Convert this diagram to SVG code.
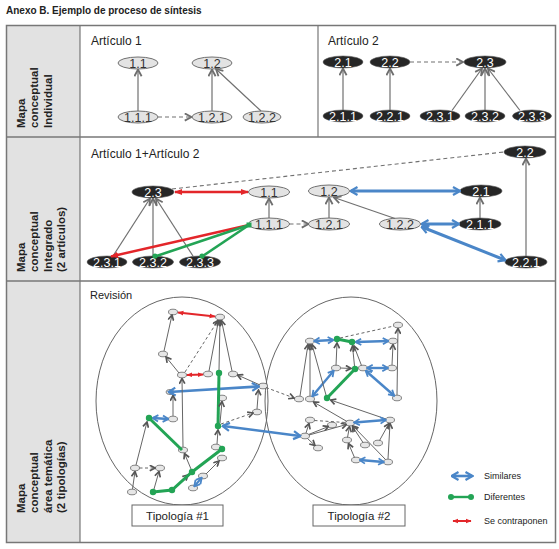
<svg xmlns="http://www.w3.org/2000/svg" width="559" height="549" viewBox="0 0 559 549">
<style>
text{font-family:"Liberation Sans",Arial,sans-serif;fill:#222}
.ttl{font-size:10px;font-weight:bold}
.hd{font-size:12px}
.lab{font-size:11.5px;font-weight:bold}
.nl{fill:#e3e3e3;stroke:#707070;stroke-width:1}
.nd{fill:#262626;stroke:#555;stroke-width:0.6}
.tl{font-size:12.5px;text-anchor:middle;fill:#333}
.td{font-size:12.5px;text-anchor:middle;fill:#fff}
.sn{fill:#e6e6e6;stroke:#666;stroke-width:0.8}
.g{stroke:#707070;stroke-width:1.2;fill:none;marker-end:url(#ag)}
.gd{stroke:#707070;stroke-width:1.1;fill:none;stroke-dasharray:4 3}
.b{stroke:#4a86c8;stroke-width:3;fill:none;marker-start:url(#ab);marker-end:url(#ab)}
.bs{stroke:#4a86c8;stroke-width:2.4;fill:none;marker-start:url(#abs);marker-end:url(#abs)}
.r{stroke:#e3262a;stroke-width:2.4;fill:none}
.gr{stroke:#23a455;stroke-width:3;fill:none}
.dot{fill:#23a455}
.s{stroke:#666;stroke-width:1;fill:none;marker-end:url(#as)}
.sd{stroke:#666;stroke-width:1;fill:none;stroke-dasharray:3 2.5}
.big{fill:none;stroke:#666;stroke-width:1}
.leg{font-size:9px}
.tip{font-size:11.5px;text-anchor:middle}
</style>
<defs>
<marker id="ag" viewBox="0 0 10 10" refX="9" refY="5" markerWidth="9" markerHeight="9" markerUnits="userSpaceOnUse" orient="auto"><path d="M1.5,1 L9,5 L1.5,9" fill="none" stroke="#6e6e6e" stroke-width="2"/></marker>
<marker id="as" viewBox="0 0 10 10" refX="9" refY="5" markerWidth="7" markerHeight="7" markerUnits="userSpaceOnUse" orient="auto"><path d="M1.5,1 L9,5 L1.5,9" fill="none" stroke="#555" stroke-width="2.4"/></marker>
<marker id="ab" viewBox="0 0 10 10" refX="8.5" refY="5" markerWidth="10" markerHeight="11" markerUnits="userSpaceOnUse" orient="auto-start-reverse"><path d="M2,1 L9,5 L2,9" fill="none" stroke="#4a86c8" stroke-width="2.2"/></marker>
<marker id="abs" viewBox="0 0 10 10" refX="8.5" refY="5" markerWidth="8" markerHeight="9" markerUnits="userSpaceOnUse" orient="auto-start-reverse"><path d="M2,1 L9,5 L2,9" fill="none" stroke="#4a86c8" stroke-width="2.2"/></marker>
<marker id="ar" viewBox="0 0 10 10" refX="9" refY="5" markerWidth="8" markerHeight="8" markerUnits="userSpaceOnUse" orient="auto-start-reverse"><path d="M0,1 L10,5 L0,9 z" fill="#e3262a"/></marker>
<marker id="ars" viewBox="0 0 10 10" refX="9" refY="5" markerWidth="6" markerHeight="6" markerUnits="userSpaceOnUse" orient="auto-start-reverse"><path d="M0,1 L10,5 L0,9 z" fill="#e3262a"/></marker>
</defs>

<text class="ttl" x="6" y="14">Anexo B. Ejemplo de proceso de síntesis</text>

<g id="table">
<rect x="6.5" y="25.5" width="73.5" height="517" fill="#e2e2e2"/>
<rect x="6.5" y="25.5" width="549" height="517" fill="none" stroke="#777" stroke-width="1.5"/>
<line x1="80" y1="25.5" x2="80" y2="542.5" stroke="#777" stroke-width="1.2"/>
<line x1="6.5" y1="137" x2="555.5" y2="137" stroke="#777" stroke-width="1.5"/>
<line x1="6.5" y1="281" x2="555.5" y2="281" stroke="#777" stroke-width="1.5"/>
<line x1="318" y1="25.5" x2="318" y2="137" stroke="#777" stroke-width="1.2"/>
<g class="lab">
<text transform="translate(24.5,128) rotate(-90)" class="lab">Mapa</text>
<text transform="translate(38,128) rotate(-90)" class="lab">conceptual</text>
<text transform="translate(51.5,128) rotate(-90)" class="lab">Individual</text>
<text transform="translate(24.5,272) rotate(-90)" class="lab">Mapa</text>
<text transform="translate(38,272) rotate(-90)" class="lab">conceptual</text>
<text transform="translate(51.5,272) rotate(-90)" class="lab">Integrado</text>
<text transform="translate(65,272) rotate(-90)" class="lab">(2 artículos)</text>
<text transform="translate(24.5,513) rotate(-90)" class="lab">Mapa</text>
<text transform="translate(38,513) rotate(-90)" class="lab">conceptual</text>
<text transform="translate(51.5,513) rotate(-90)" class="lab">área temática</text>
<text transform="translate(65,513) rotate(-90)" class="lab">(2 tipologías)</text>
</g>
<text class="hd" x="91" y="45">Artículo 1</text>
<text class="hd" x="328" y="45">Artículo 2</text>
<text class="hd" x="91" y="158">Artículo 1+Artículo 2</text>
<text x="90" y="299" style="font-size:11px">Revisión</text>
</g>

<!-- Row 1 nodes -->
<g id="n-a1-1.1"><ellipse class="nl" cx="138" cy="63" rx="20" ry="6"/><text class="tl" x="138" y="67.5">1.1</text></g>
<g id="n-a1-1.2"><ellipse class="nl" cx="212" cy="63" rx="20" ry="6"/><text class="tl" x="212" y="67.5">1.2</text></g>
<g id="n-a1-1.1.1"><ellipse class="nl" cx="138" cy="117" rx="20" ry="6"/><text class="tl" x="138" y="121.5">1.1.1</text></g>
<g id="n-a1-1.2.1"><ellipse class="nl" cx="212" cy="117" rx="20" ry="6"/><text class="tl" x="212" y="121.5">1.2.1</text></g>
<g id="n-a1-1.2.2"><ellipse class="nl" cx="262" cy="117" rx="19" ry="6"/><text class="tl" x="262" y="121.5">1.2.2</text></g>
<g id="n-a2-2.1"><ellipse class="nd" cx="343" cy="62" rx="20" ry="6"/><text class="td" x="343" y="66.5">2.1</text></g>
<g id="n-a2-2.2"><ellipse class="nd" cx="390" cy="62" rx="20" ry="6"/><text class="td" x="390" y="66.5">2.2</text></g>
<g id="n-a2-2.3"><ellipse class="nd" cx="485" cy="62" rx="21" ry="6"/><text class="td" x="485" y="66.5">2.3</text></g>
<g id="n-a2-2.1.1"><ellipse class="nd" cx="343" cy="116" rx="20" ry="6"/><text class="td" x="343" y="120.5">2.1.1</text></g>
<g id="n-a2-2.2.1"><ellipse class="nd" cx="390" cy="116" rx="20" ry="6"/><text class="td" x="390" y="120.5">2.2.1</text></g>
<g id="n-a2-2.3.1"><ellipse class="nd" cx="440" cy="116" rx="20" ry="6"/><text class="td" x="440" y="120.5">2.3.1</text></g>
<g id="n-a2-2.3.2"><ellipse class="nd" cx="485" cy="116" rx="20" ry="6"/><text class="td" x="485" y="120.5">2.3.2</text></g>
<g id="n-a2-2.3.3"><ellipse class="nd" cx="532" cy="116" rx="19.5" ry="6"/><text class="td" x="532" y="120.5">2.3.3</text></g>

<!-- Row 2 nodes -->
<g id="n-i-2.3"><ellipse class="nd" cx="153" cy="192" rx="21" ry="6"/><text class="td" x="153" y="196.5">2.3</text></g>
<g id="n-i-1.1"><ellipse class="nl" cx="269" cy="192" rx="20.5" ry="6"/><text class="tl" x="269" y="196.5">1.1</text></g>
<g id="n-i-1.2"><ellipse class="nl" cx="329" cy="191" rx="20.5" ry="6"/><text class="tl" x="329" y="195.5">1.2</text></g>
<g id="n-i-2.1"><ellipse class="nd" cx="481" cy="191" rx="21" ry="6"/><text class="td" x="481" y="195.5">2.1</text></g>
<g id="n-i-2.2"><ellipse class="nd" cx="525" cy="152" rx="21" ry="6"/><text class="td" x="525" y="156.5">2.2</text></g>
<g id="n-i-1.1.1"><ellipse class="nl" cx="269" cy="224" rx="20.5" ry="6"/><text class="tl" x="269" y="228.5">1.1.1</text></g>
<g id="n-i-1.2.1"><ellipse class="nl" cx="329" cy="224" rx="20.5" ry="6"/><text class="tl" x="329" y="228.5">1.2.1</text></g>
<g id="n-i-1.2.2"><ellipse class="nl" cx="400" cy="224" rx="20.5" ry="6"/><text class="tl" x="400" y="228.5">1.2.2</text></g>
<g id="n-i-2.1.1"><ellipse class="nd" cx="480" cy="224" rx="21" ry="6"/><text class="td" x="480" y="228.5">2.1.1</text></g>
<g id="n-i-2.2.1"><ellipse class="nd" cx="526" cy="262" rx="21" ry="6"/><text class="td" x="526" y="266.5">2.2.1</text></g>
<g id="n-i-2.3.1"><ellipse class="nd" cx="107" cy="262" rx="20" ry="6"/><text class="td" x="107" y="266.5">2.3.1</text></g>
<g id="n-i-2.3.2"><ellipse class="nd" cx="153" cy="262" rx="20.5" ry="6"/><text class="td" x="153" y="266.5">2.3.2</text></g>
<g id="n-i-2.3.3"><ellipse class="nd" cx="200" cy="262" rx="20.5" ry="6"/><text class="td" x="200" y="266.5">2.3.3</text></g>

<!-- Row 3 typology ellipses and boxes -->
<g id="tipologia-1">
<ellipse class="big" cx="182" cy="401" rx="86" ry="104"/>
<rect x="132" y="505" width="91" height="21" fill="#fff" stroke="#666" stroke-width="1"/>
<text class="tip" x="177.5" y="520">Tipología #1</text>
</g>
<g id="tipologia-2">
<ellipse class="big" cx="351" cy="401" rx="86" ry="104"/>
<rect x="313" y="505" width="92" height="21" fill="#fff" stroke="#666" stroke-width="1"/>
<text class="tip" x="359" y="520">Tipología #2</text>
</g>

<!-- Row 3 small nodes -->
<g id="small-nodes">
<ellipse class="sn" cx="173" cy="312" rx="4.5" ry="2.8"/>
<ellipse class="sn" cx="220" cy="317" rx="4.5" ry="2.8"/>
<ellipse class="sn" cx="163" cy="354" rx="4.5" ry="2.8"/>
<ellipse class="sn" cx="182" cy="375" rx="4.5" ry="2.8"/>
<ellipse class="sn" cx="208" cy="374" rx="4.5" ry="2.8"/>
<ellipse class="sn" cx="233" cy="374" rx="4.5" ry="2.8"/>
<ellipse class="sn" cx="263" cy="386" rx="4.5" ry="2.8"/>
<ellipse class="sn" cx="257" cy="412" rx="4.5" ry="2.8"/>
<ellipse class="sn" cx="222" cy="398" rx="4.5" ry="2.8"/>
<ellipse class="sn" cx="170" cy="392" rx="4" ry="2.5"/>
<ellipse class="sn" cx="173" cy="419" rx="4.5" ry="2.8"/>
<ellipse class="sn" cx="135" cy="468" rx="4.5" ry="2.8"/>
<ellipse class="sn" cx="160" cy="468" rx="4.5" ry="2.8"/>
<ellipse class="sn" cx="132" cy="492" rx="4.5" ry="2.8"/>
<ellipse class="sn" cx="183" cy="450" rx="4.5" ry="2.8"/>
<ellipse class="sn" cx="216" cy="447" rx="4.5" ry="2.8"/>
<ellipse class="sn" cx="203" cy="476" rx="4.5" ry="2.8"/>
<ellipse class="sn" cx="193" cy="488" rx="4.5" ry="2.8"/>
<ellipse class="sn" cx="222" cy="458" rx="4.5" ry="2.8"/>
<ellipse class="sn" cx="310" cy="341" rx="4.5" ry="2.8"/>
<ellipse class="sn" cx="393" cy="341" rx="4.5" ry="2.8"/>
<ellipse class="sn" cx="336" cy="368" rx="4.5" ry="2.8"/>
<ellipse class="sn" cx="363" cy="368" rx="4.5" ry="2.8"/>
<ellipse class="sn" cx="398" cy="325" rx="4.5" ry="2.8"/>
<ellipse class="sn" cx="392" cy="368" rx="4.5" ry="2.8"/>
<ellipse class="sn" cx="397" cy="398" rx="4.5" ry="2.8"/>
<ellipse class="sn" cx="310" cy="399" rx="4.5" ry="2.8"/>
<ellipse class="sn" cx="299" cy="399" rx="4.5" ry="2.8"/>
<ellipse class="sn" cx="305" cy="436" rx="4.5" ry="2.8"/>
<ellipse class="sn" cx="310" cy="420" rx="4.5" ry="2.8"/>
<ellipse class="sn" cx="332" cy="425" rx="4.5" ry="2.8"/>
<ellipse class="sn" cx="350" cy="423" rx="4.5" ry="2.8"/>
<ellipse class="sn" cx="390" cy="420" rx="4.5" ry="2.8"/>
<ellipse class="sn" cx="318" cy="448" rx="4.5" ry="2.8"/>
<ellipse class="sn" cx="347" cy="440" rx="4.5" ry="2.8"/>
<ellipse class="sn" cx="365" cy="445" rx="4.5" ry="2.8"/>
<ellipse class="sn" cx="378" cy="443" rx="4.5" ry="2.8"/>
<ellipse class="sn" cx="356" cy="460" rx="4.5" ry="2.8"/>
<ellipse class="sn" cx="388" cy="462" rx="4.5" ry="2.8"/>
</g>

<g id="connectors">
<!-- row 1 -->
<line class="g" x1="138" y1="111" x2="138" y2="69.5"/>
<line class="g" x1="212" y1="111" x2="212" y2="69.5"/>
<line class="g" x1="261" y1="111" x2="216" y2="69"/>
<line class="gd" x1="158" y1="117" x2="191.5" y2="117" style="marker-end:url(#ag)"/>
<line class="g" x1="343" y1="110" x2="343" y2="68.5"/>
<line class="g" x1="390" y1="110" x2="390" y2="68.5"/>
<line class="gd" x1="410" y1="62" x2="463" y2="62" style="marker-end:url(#ag)"/>
<line class="g" x1="452" y1="110.5" x2="482" y2="68.5"/>
<line class="g" x1="485" y1="110" x2="485" y2="68.5"/>
<line class="g" x1="520" y1="110.5" x2="488" y2="68.5"/>
<!-- row 2 -->
<line class="g" x1="113" y1="256" x2="150" y2="198.5"/>
<line class="g" x1="153" y1="256" x2="153" y2="198.5"/>
<line class="g" x1="193" y1="256" x2="156" y2="198.5"/>
<line class="gd" x1="172" y1="189" x2="504" y2="152"/>
<line class="r" x1="175" y1="192" x2="248" y2="192" style="marker-start:url(#ar);marker-end:url(#ar)"/>
<line class="g" x1="269" y1="218" x2="269" y2="198.5"/>
<line class="gd" x1="289.5" y1="224" x2="308.5" y2="224" style="marker-end:url(#ag)"/>
<line class="g" x1="329" y1="218" x2="329" y2="197.5"/>
<line class="g" x1="395" y1="218.5" x2="334" y2="197.5"/>
<line class="b" x1="351" y1="191" x2="459.5" y2="191"/>
<line class="g" x1="480" y1="218" x2="480" y2="197.5"/>
<line class="b" x1="422" y1="224" x2="458.5" y2="224"/>
<line class="b" x1="422" y1="227" x2="505" y2="260"/>
<line class="g" x1="526" y1="256" x2="526" y2="158.5"/>
<line class="r" x1="249" y1="225" x2="111" y2="256.5" style="marker-end:url(#ar)"/>
<line class="gr" x1="249" y1="225" x2="155" y2="256.5" style="stroke-width:2.6"/>
<line class="gr" x1="249" y1="225" x2="202" y2="256.5" style="stroke-width:2.6"/>
<rect class="dot" x="246.5" y="222.5" width="5" height="5"/>
<circle class="dot" cx="155" cy="256" r="2.6"/>
<circle class="dot" cx="202" cy="256" r="2.6"/>

<!-- row 3 left -->
<line class="r" x1="178" y1="312.5" x2="215" y2="316.5" style="stroke-width:2;marker-start:url(#ars);marker-end:url(#ars)"/>
<line class="s" x1="164" y1="351" x2="172" y2="315"/>
<line class="s" x1="179" y1="373" x2="166" y2="357"/>
<line class="sd" x1="185" y1="372" x2="218" y2="320.5" style="marker-end:url(#as)"/>
<line class="r" x1="187" y1="375" x2="203" y2="374.5" style="stroke-width:2;marker-start:url(#ars);marker-end:url(#ars)"/>
<line class="s" x1="209" y1="371" x2="218.5" y2="320.5"/>
<line class="s" x1="219" y1="370" x2="220" y2="320.5"/>
<line class="s" x1="232" y1="371" x2="221.5" y2="320.5"/>
<line class="s" x1="260" y1="385" x2="237.5" y2="375"/>
<line class="b" x1="258.5" y1="386.5" x2="169" y2="392" style="stroke-width:2.6"/>
<line class="sd" x1="266" y1="387.5" x2="294" y2="398" style="marker-end:url(#as)"/>
<line class="s" x1="257" y1="409" x2="258.5" y2="390"/>
<line class="sd" x1="221" y1="424" x2="253" y2="413" style="marker-end:url(#as)"/>
<line class="gr" x1="219" y1="373" x2="218" y2="426"/>
<line class="s" x1="220" y1="423" x2="222" y2="401.5"/>
<line class="b" x1="223" y1="426" x2="300" y2="436" style="stroke-width:2.6"/>
<line class="s" x1="217" y1="444" x2="218" y2="430"/>
<line class="bs" x1="153" y1="418" x2="168" y2="419"/>
<line class="s" x1="173" y1="416" x2="173" y2="395.5"/>
<line class="gr" x1="149" y1="418" x2="182" y2="450"/>
<line class="s" x1="183" y1="447" x2="182" y2="378.5"/>
<line class="s" x1="136" y1="465" x2="147" y2="422"/>
<line class="sd" x1="139.5" y1="468" x2="155" y2="468" style="marker-end:url(#as)"/>
<line class="s" x1="132.5" y1="489" x2="135" y2="471.5"/>
<line class="s" x1="154" y1="489" x2="159" y2="471.5"/>
<line class="s" x1="191" y1="469" x2="184.5" y2="453.5"/>
<line class="s" x1="174" y1="488" x2="188" y2="475"/>
<polyline class="gr" points="153,492 172,490 192,472 222,449"/>
<line class="s" x1="206" y1="474" x2="219" y2="461"/>
<line class="bs" x1="194.5" y1="486" x2="201.5" y2="478" style="stroke-width:2"/>
<circle class="dot" cx="219" cy="373" r="3.2"/>
<circle class="dot" cx="218" cy="426" r="3.2"/>
<circle class="dot" cx="149" cy="418" r="3.2"/>
<circle class="dot" cx="222" cy="449" r="3.2"/>
<circle class="dot" cx="192" cy="472" r="3.2"/>
<circle class="dot" cx="172" cy="490" r="3.2"/>
<circle class="dot" cx="153" cy="492" r="3.2"/>

<!-- row 3 right -->
<line class="bs" x1="314.5" y1="341" x2="333" y2="340"/>
<line class="gr" x1="337" y1="339" x2="352" y2="342"/>
<line class="sd" x1="340" y1="338" x2="394" y2="326"/>
<line class="bs" x1="356" y1="342" x2="388" y2="341"/>
<line class="s" x1="336" y1="365.5" x2="337" y2="343"/>
<line class="s" x1="340.5" y1="368" x2="351" y2="368.5"/>
<line class="s" x1="354.5" y1="366" x2="352.5" y2="346"/>
<line class="gr" x1="355" y1="369" x2="327" y2="398"/>
<line class="s" x1="361.5" y1="365.5" x2="354" y2="346"/>
<line class="bs" x1="367.5" y1="368" x2="387.5" y2="368"/>
<line class="s" x1="392" y1="365" x2="393" y2="344.5"/>
<line class="bs" x1="366" y1="371" x2="394" y2="395.5"/>
<line class="s" x1="397" y1="395" x2="398" y2="328.5"/>
<line class="bs" x1="333.5" y1="371" x2="312.5" y2="396"/>
<line class="s" x1="310" y1="396" x2="310" y2="344.5"/>
<line class="s" x1="300" y1="396" x2="308" y2="344.5"/>
<line class="s" x1="326" y1="395" x2="312" y2="344.5"/>
<line class="s" x1="347" y1="421.5" x2="313.5" y2="402"/>
<line class="s" x1="386" y1="419" x2="330.5" y2="400"/>
<line class="sd" x1="314.5" y1="420.5" x2="345.5" y2="422.5"/>
<line class="bs" x1="354.5" y1="422.5" x2="385.5" y2="420"/>
<line class="s" x1="306" y1="433" x2="309" y2="423.5"/>
<line class="s" x1="308.5" y1="434.5" x2="328.5" y2="426.5"/>
<line class="s" x1="309" y1="435" x2="346.5" y2="424.5"/>
<line class="s" x1="307.5" y1="438.5" x2="315" y2="445.5"/>
<line class="s" x1="347.5" y1="437.5" x2="349.5" y2="426.5"/>
<line class="s" x1="363" y1="442.5" x2="352.5" y2="426.5"/>
<line class="s" x1="379.5" y1="440.5" x2="389" y2="423.5"/>
<line class="s" x1="388" y1="459" x2="390" y2="423.5"/>
<line class="s" x1="385.5" y1="459.5" x2="353" y2="426"/>
<line class="s" x1="354.5" y1="457.5" x2="348.5" y2="443.5"/>
<line class="bs" x1="360" y1="460" x2="383.5" y2="462"/>
<circle class="dot" cx="337" cy="339" r="3.2"/>
<circle class="dot" cx="352" cy="342" r="3.2"/>
<circle class="dot" cx="355" cy="369" r="3.2"/>
<circle class="dot" cx="327" cy="398" r="3.2"/>
</g>

<g id="legend">
<line class="b" x1="452" y1="476" x2="472" y2="476" style="stroke-width:2.6"/>
<text class="leg" x="484" y="479">Similares</text>
<line class="gr" x1="451" y1="497" x2="471" y2="497" style="stroke-width:2.4"/>
<circle class="dot" cx="451" cy="497" r="3"/>
<circle class="dot" cx="471" cy="497" r="3"/>
<text class="leg" x="484" y="500">Diferentes</text>
<line class="r" x1="453" y1="521" x2="471" y2="521" style="stroke-width:2;marker-start:url(#ars);marker-end:url(#ars)"/>
<text class="leg" x="484" y="524">Se contraponen</text>
</g>
</svg>
